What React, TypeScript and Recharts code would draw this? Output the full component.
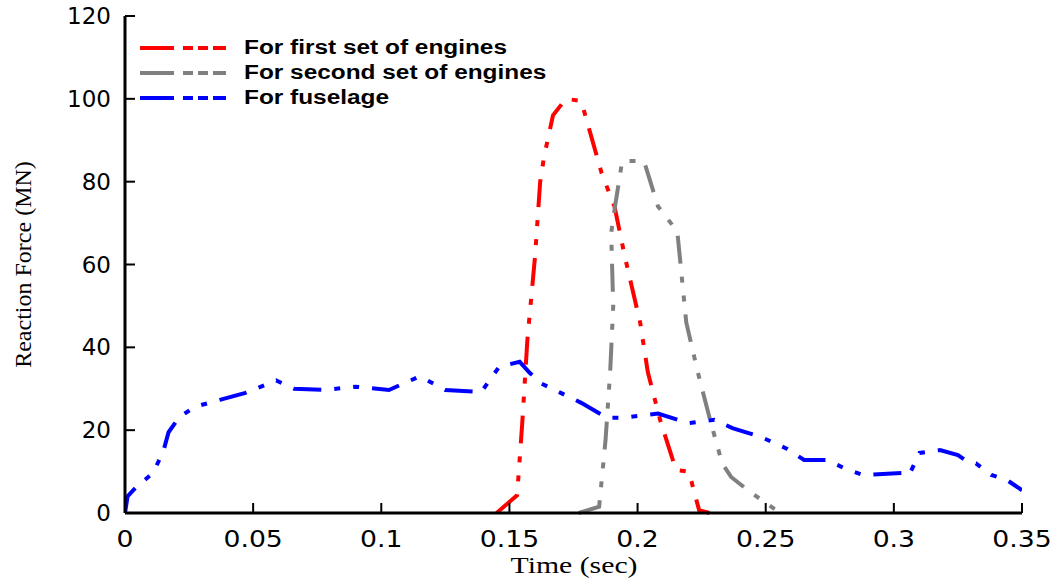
import React from "react";
import {
  LineChart,
  Line,
  XAxis,
  YAxis,
  Legend,
  Label,
} from "recharts";

// Time (sec) / reaction force (MN)
const firstTime = [0.145, 0.153, 0.155, 0.157, 0.16, 0.162, 0.1635, 0.167, 0.172, 0.178, 0.186, 0.191, 0.195, 0.201, 0.204, 0.209, 0.215, 0.22, 0.224, 0.228];
const firstForce = [0, 4.3, 21.7, 41.8, 62, 80, 86, 96, 100, 99.5, 82, 74, 62, 46, 34, 22, 10.4, 10, 0.7, 0];

const secondTime = [0.177, 0.185, 0.1875, 0.1893, 0.1905, 0.1897, 0.1912, 0.194, 0.2025, 0.208, 0.2155, 0.219, 0.2235, 0.2285, 0.233, 0.2365, 0.243, 0.254, 0.258];
const secondForce = [0, 1.5, 17.6, 34, 50, 67.6, 74, 85, 85, 74, 68, 46, 34, 22, 12, 8.7, 5.5, 0.7, 0];

const fuselageTime = [0, 0.001, 0.004, 0.011, 0.015, 0.017, 0.021, 0.027, 0.037, 0.047, 0.059, 0.066, 0.078, 0.09, 0.103, 0.115, 0.125, 0.139, 0.146, 0.154, 0.158, 0.162, 0.17, 0.178, 0.188, 0.194, 0.208, 0.22, 0.23, 0.237, 0.248, 0.258, 0.265, 0.274, 0.282, 0.288, 0.304, 0.306, 0.31, 0.318, 0.325, 0.329, 0.332, 0.338, 0.344, 0.35];
const fuselageForce = [0, 4, 6, 9.7, 15, 19.5, 23, 25.6, 27.3, 29, 32, 30, 29.7, 30.5, 29.7, 33, 29.7, 29.2, 35.3, 36.5, 33.8, 31.4, 29, 26.6, 23, 23, 24, 21.7, 22.5, 20.5, 18.4, 15.6, 12.8, 12.8, 10.4, 9.2, 9.7, 9.2, 14.5, 15.2, 14, 12.3, 12, 9.2, 8, 5.5];

const xTicks = [0, 0.05, 0.1, 0.15, 0.2, 0.25, 0.3, 0.35];
const yTicks = [0, 20, 40, 60, 80, 100, 120];

const toPoints = (t: number[], f: number[]) => t.map((time, i) => ({ time, force: f[i] }));

const series = [
  { name: "For first set of engines", color: "#ff0000", data: toPoints(firstTime, firstForce) },
  { name: "For second set of engines", color: "#808080", data: toPoints(secondTime, secondForce) },
  { name: "For fuselage", color: "#0000ff", data: toPoints(fuselageTime, fuselageForce) },
];

const TICK_FONT = "'DejaVu Sans', sans-serif";
const TITLE_FONT = "'Liberation Serif', 'Times New Roman', serif";
const DASH = "28 13 6 13 6 13";

const LeftTick = (props: any) => {
  const { x, y, payload } = props;
  return (
    <g>
      <line x1={x} x2={x + 10} y1={y} y2={y} stroke="#000" strokeWidth={2} />
      <text x={x - 14} y={y + 8} textAnchor="end" fontSize={23} fontFamily={TICK_FONT} fill="#000">
        {payload.value}
      </text>
    </g>
  );
};

const RightTick = (props: any) => {
  const { x, y } = props;
  return <line x1={x} x2={x - 10} y1={y} y2={y} stroke="#000" strokeWidth={2} />;
};

const BottomTick = (props: any) => {
  const { x, y, payload } = props;
  return (
    <g>
      <line x1={x} x2={x} y1={y} y2={y - 10} stroke="#000" strokeWidth={2} />
      <text
        x={0}
        y={y + 34}
        transform={`translate(${x},0) scale(1.16,1)`}
        textAnchor="middle"
        fontSize={23}
        fontFamily={TICK_FONT}
        fill="#000"
      >
        {payload.value}
      </text>
    </g>
  );
};

const TopTick = (props: any) => {
  const { x, y } = props;
  return <line x1={x} x2={x} y1={y} y2={y + 10} stroke="#000" strokeWidth={2} />;
};

const renderLegend = () => (
  <div style={{ fontFamily: "'Liberation Sans', Arial, sans-serif", fontWeight: "bold", fontSize: 20 }}>
    {series.map((s) => (
      <div key={s.name} style={{ display: "flex", alignItems: "center", height: 25 }}>
        <svg width={88} height={8} style={{ marginRight: 16 }}>
          <line x1={0} x2={86} y1={4} y2={4} stroke={s.color} strokeWidth={4} strokeDasharray="34 9 10 5 10 5 13" />
        </svg>
        <span
          style={{
            color: "#000",
            display: "inline-block",
            whiteSpace: "nowrap",
            transform: "scaleX(1.22)",
            transformOrigin: "left center",
          }}
        >
          {s.name}
        </span>
      </div>
    ))}
  </div>
);

export default function App() {
  return (
    <div style={{ position: "absolute", left: 0, top: 0, background: "#fff" }}>
      <LineChart width={1061} height={581} margin={{ top: 16, right: 39, bottom: 0, left: 0 }}>
        <XAxis
          xAxisId="b"
          dataKey="time"
          type="number"
          domain={[0, 0.35]}
          ticks={xTicks}
          allowDataOverflow
          height={68}
          tickSize={0}
          tickMargin={0}
          tickLine={false}
          axisLine={{ stroke: "#000", strokeWidth: 3 }}
          tick={<BottomTick />}
          interval={0}
        >
          <Label
            content={({ viewBox }: any) => (
              <text
                x={viewBox.x + viewBox.width / 2 - 63}
                y={viewBox.y + 60}
                textLength={127}
                lengthAdjust="spacingAndGlyphs"
                fontSize={24}
                fontFamily={TITLE_FONT}
                fill="#000"
              >
                Time (sec)
              </text>
            )}
          />
        </XAxis>
        <XAxis
          xAxisId="t"
          orientation="top"
          dataKey="time"
          type="number"
          domain={[0, 0.35]}
          ticks={xTicks}
          height={0}
          tickSize={0}
          tickMargin={0}
          tickLine={false}
          axisLine={{ stroke: "#000", strokeWidth: 3 }}
          tick={<TopTick />}
          interval={0}
        />
        <YAxis
          yAxisId="l"
          type="number"
          domain={[0, 120]}
          ticks={yTicks}
          width={125}
          tickSize={0}
          tickMargin={0}
          tickLine={false}
          axisLine={{ stroke: "#000", strokeWidth: 3 }}
          tick={<LeftTick />}
          interval={0}
        >
          <Label
            content={({ viewBox }: any) => {
              const cx = 31;
              const cy = viewBox.y + viewBox.height / 2;
              return (
                <text x={cx} y={cy} transform={`rotate(-90 ${cx} ${cy})`} textAnchor="middle" fontSize={24} fontFamily={TITLE_FONT} fill="#000">
                  Reaction Force (MN)
                </text>
              );
            }}
          />
        </YAxis>
        <YAxis
          yAxisId="r"
          orientation="right"
          type="number"
          domain={[0, 120]}
          ticks={yTicks}
          width={0}
          tickSize={0}
          tickMargin={0}
          tickLine={false}
          axisLine={{ stroke: "#000", strokeWidth: 3 }}
          tick={<RightTick />}
          interval={0}
        />
        <Legend
          layout="vertical"
          verticalAlign="middle"
          align="center"
          content={renderLegend}
          wrapperStyle={{ top: 35, left: 140, width: 440 }}
        />
        {series.map((s) => (
          <Line
            key={s.name}
            xAxisId="b"
            yAxisId="l"
            data={s.data}
            dataKey="force"
            name={s.name}
            type="linear"
            stroke={s.color}
            strokeWidth={4}
            strokeDasharray={DASH}
            dot={false}
            activeDot={false}
            isAnimationActive={false}
          />
        ))}
      </LineChart>
    </div>
  );
}
